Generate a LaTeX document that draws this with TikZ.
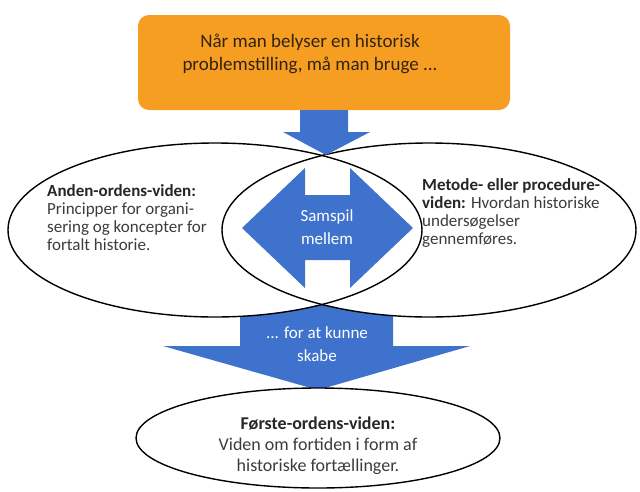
\documentclass[tikz,border=0pt]{standalone}
\usepackage{fontspec}
\setmainfont{Carlito}
\usetikzlibrary{shapes.geometric}
\definecolor{orangefill}{RGB}{246,158,34}
\definecolor{bluefill}{RGB}{62,114,204}
\definecolor{bodytext}{RGB}{60,60,60}
\definecolor{boxtext}{RGB}{50,35,15}
\tikzset{
  bluearrow/.style={fill=bluefill,draw=none},
  oval/.style={ellipse,inner sep=0pt},
  ovalline/.style={draw=black,line width=1.4pt},
  sidetext/.style={align=left,anchor=west,inner sep=0pt,text=bodytext,font=\fontsize{17}{18}\selectfont},
  whitetext/.style={align=center,inner sep=0pt,text=white,font=\fontsize{17}{22.5}\selectfont}
}
\begin{document}
\begin{tikzpicture}[x=1pt,y=-1pt]
\useasboundingbox (0,0) rectangle (640,491);
% top box
\node[fill=orangefill,rounded corners=11pt,minimum width=372pt,minimum height=95pt,inner sep=0pt] (box) at (324,62.5) {};
\node[align=center,inner sep=0pt,text=boxtext,font=\fontsize{19}{23}\selectfont] (boxtxt) at (310,54)
  {Når man belyser en historisk\\problemstilling, må man bruge ...};
% bottom arrow (behind ellipses)
\path[bluearrow] (240,300) -- (393,300) -- (393,346) -- (470,346) -- (318,390) -- (163,346) -- (240,346) -- cycle;
% ellipses
\node[oval,minimum width=414pt,minimum height=174pt] (left) at (215,230) {};
\node[oval,minimum width=414pt,minimum height=174pt] (right) at (429,230) {};
\fill[white] (left.center) ellipse [x radius=207pt,y radius=87pt];
\fill[white] (right.center) ellipse [x radius=207pt,y radius=87pt];
% center double arrow
\path[bluearrow] (242,228) -- (305,168) -- (305,195) -- (350,195) -- (350,168) -- (413,228)
  -- (350,288) -- (350,260) -- (305,260) -- (305,288) -- cycle;
\draw[ovalline] (left.center) ellipse [x radius=207pt,y radius=87pt];
\draw[ovalline] (right.center) ellipse [x radius=207pt,y radius=87pt];
% top arrow
\path[bluearrow] (box.south) ++(-24,0) -- ++(48,0) -- (348,132) -- (370,132) -- (326,155) -- (283,132) -- (300,132) -- cycle;
% bottom ellipse
\node[oval,ovalline,fill=white,minimum width=364pt,minimum height=100pt] (bottom) at (318,438) {};
% texts
\node[sidetext] (lefttxt) at (47,218)
  {\textbf{\color{black!85}Anden-ordens-viden:}\\Principper for organi-\\sering og koncepter for\\fortalt historie.};
\node[sidetext] (righttxt) at (422,213)
  {\textbf{\color{black!85}Metode- eller procedure-}\\\textbf{\color{black!85}viden:} Hvordan historiske\\undersøgelser\\gennemføres.};
\node[whitetext] (samspil) at (327,227) {Samspil\\mellem};
\node[whitetext] (skabe) at (317,344) {... for at kunne\\skabe};
\node[align=center,inner sep=0pt,text=bodytext,font=\fontsize{18}{21}\selectfont] (bottomtxt) at (318,446)
  {\textbf{\color{black!85}Første-ordens-viden:}\\Viden om fortiden i form af\\historiske fortællinger.};
\end{tikzpicture}
\end{document}
